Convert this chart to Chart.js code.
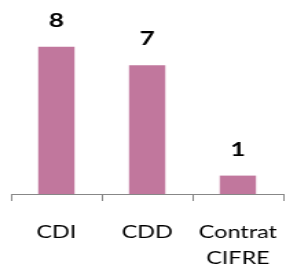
<!DOCTYPE html>
<html>
<head>
<meta charset="utf-8">
<script src="https://cdn.jsdelivr.net/npm/chart.js@4/dist/chart.umd.min.js"></script>
<style>
  body { margin: 0; background: #fff; overflow: hidden; }
  /* the reference is stretched sideways, so draw narrow and widen it */
  #wrap { width: 208px; height: 274px; transform: scaleX(1.375); transform-origin: 0 0; }
  #myChart { width: 208px; height: 274px; display: block; }
</style>
</head>
<body>
<div id="wrap"><canvas id="myChart" width="208" height="274"></canvas></div>
<script>
// data
var categories = ['CDI', 'CDD', ['Contrat', 'CIFRE']];
var counts = [8, 7, 1];

// writes the count above each bar
var valueLabels = {
  id: 'valueLabels',
  afterDatasetsDraw: function(chart) {
    var ctx = chart.ctx;
    var meta = chart.getDatasetMeta(0);
    ctx.save();
    ctx.font = 'bold 19px Lato';
    ctx.fillStyle = '#000';
    ctx.textAlign = 'center';
    ctx.textBaseline = 'alphabetic';
    meta.data.forEach(function(bar, i) {
      ctx.fillText(String(counts[i]), bar.x, bar.y - 20);
    });
    ctx.restore();
  }
};

var ctx = document.getElementById('myChart').getContext('2d');
var chart = new Chart(ctx, {
  type: 'bar',
  data: {
    labels: categories,
    datasets: [{
      data: counts,
      backgroundColor: '#C1779D',
      borderWidth: 0,
      barPercentage: 0.4,
      categoryPercentage: 1
    }]
  },
  options: {
    responsive: false,
    animation: false,
    devicePixelRatio: 1,
    layout: { padding: { left: 8, right: 2, top: 10, bottom: 3 } },
    plugins: { legend: { display: false }, tooltip: { enabled: false } },
    scales: {
      y: { display: false, min: 0, max: 10 },
      x: {
        afterFit: function(scale) {
          scale.height = 77;
          scale.paddingLeft = 0;
          scale.paddingRight = 0;
        },
        grid: { offset: true, drawOnChartArea: false, color: '#878787', tickLength: 7 },
        border: { color: '#878787' },
        ticks: {
          color: '#000',
          padding: 18,
          maxRotation: 0,
          font: { family: 'Lato', size: 17, lineHeight: 1.55 }
        }
      }
    }
  },
  plugins: [valueLabels]
});
</script>
</body>
</html>
